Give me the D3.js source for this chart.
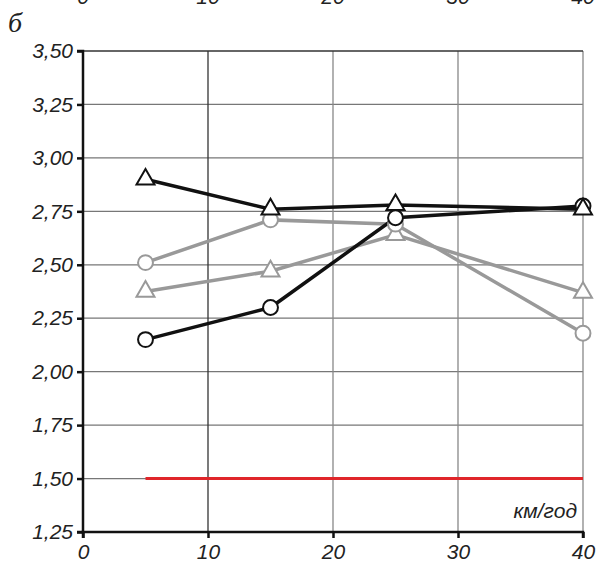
<!DOCTYPE html>
<html>
<head>
<meta charset="utf-8">
<script src="https://cdn.jsdelivr.net/npm/d3@7"></script>
<style>
  body { margin: 0; background: #fff; }
  svg text { font-family: "Liberation Sans", Arial, sans-serif; font-style: italic; }
</style>
</head>
<body>
<div id="chart"></div>
<script>
// speed, km/h
var speeds = [5, 15, 25, 40];

var blackTriangles = [2.90, 2.76, 2.78, 2.76];
var blackCircles = [2.15, 2.30, 2.72, 2.775];
var greyCircles = [2.51, 2.71, 2.69, 2.18];
var greyTriangles = [2.375, 2.47, 2.64, 2.37];

var limitX = [5, 40];
var limitValue = 1.50;

var yTicks = [1.25, 1.50, 1.75, 2.00, 2.25, 2.50, 2.75, 3.00, 3.25, 3.50];
var xTicks = [0, 10, 20, 30, 40];

var width = 596, height = 565;

var x = d3.scaleLinear().domain([0, 40]).range([83, 583]);
var y = d3.scaleLinear().domain([1.25, 3.50]).range([532, 51]);

var svg = d3.select('#chart').append('svg')
    .attr('width', width)
    .attr('height', height);

var fmt = function (d) { return d3.format('.2f')(d).replace('.', ','); };

// tick labels of the chart above, cut off at the top
svg.append('g').selectAll('text')
    .data(xTicks)
    .enter().append('text')
    .attr('x', function (d) { return x(d); })
    .attr('y', 4)
    .attr('text-anchor', 'middle')
    .attr('fill', '#222')
    .style('font-size', '21px')
    .text(function (d) { return d; });

svg.append('text')
    .attr('x', 8)
    .attr('y', 32)
    .attr('fill', '#222')
    .style('font-family', '"Liberation Serif", serif')
    .style('font-size', '28px')
    .text('б');

// grid
svg.append('g').selectAll('line')
    .data(yTicks.slice(1, -1))
    .enter().append('line')
    .attr('x1', x(0)).attr('x2', x(40))
    .attr('y1', function (d) { return y(d); })
    .attr('y2', function (d) { return y(d); })
    .attr('stroke', '#777')
    .attr('stroke-width', 1.2);

svg.append('g').selectAll('line')
    .data(xTicks.slice(1))
    .enter().append('line')
    .attr('y1', y(1.25)).attr('y2', y(3.50))
    .attr('x1', function (d) { return x(d); })
    .attr('x2', function (d) { return x(d); })
    .attr('stroke', function (d) { return d === 10 ? '#333' : '#888'; })
    .attr('stroke-width', 1.3);

svg.append('line')
    .attr('x1', x(0)).attr('x2', x(40))
    .attr('y1', y(3.50)).attr('y2', y(3.50))
    .attr('stroke', '#333').attr('stroke-width', 1.5);

// axes
var yAxis = svg.append('g')
    .attr('transform', 'translate(' + x(0) + ',0)')
    .call(d3.axisLeft(y).tickValues(yTicks).tickFormat(fmt).tickSize(6).tickPadding(4));
var xAxis = svg.append('g')
    .attr('transform', 'translate(0,' + y(1.25) + ')')
    .call(d3.axisBottom(x).tickValues(xTicks).tickSize(6).tickPadding(6));

[yAxis, xAxis].forEach(function (ax) {
    ax.select('.domain').attr('stroke', '#111').attr('stroke-width', 2.5);
    ax.selectAll('.tick line').attr('stroke', '#111').attr('stroke-width', 2.5);
    ax.selectAll('.tick text')
        .attr('fill', '#222')
        .style('font-size', '21px')
        .style('font-family', '"Liberation Sans", Arial, sans-serif')
        .style('font-style', 'italic');
});
xAxis.select('.domain').attr('d', 'M' + x(0) + ',6V0H' + x(40) + 'V6');
yAxis.select('.domain').attr('d', 'M-6,' + y(3.50) + 'H0V' + y(1.25) + 'H-6');

svg.append('text')
    .attr('x', 577)
    .attr('y', 518)
    .attr('text-anchor', 'end')
    .attr('fill', '#222')
    .style('font-size', '21px')
    .text('км/год');

// limit line
svg.append('line')
    .attr('x1', x(limitX[0])).attr('x2', x(limitX[1]))
    .attr('y1', y(limitValue)).attr('y2', y(limitValue))
    .attr('stroke', '#e0262a')
    .attr('stroke-width', 3);

var series = [
    { values: greyTriangles, color: '#999', marker: 'triangle' },
    { values: greyCircles, color: '#999', marker: 'circle' },
    { values: blackCircles, color: '#111', marker: 'circle' },
    { values: blackTriangles, color: '#111', marker: 'triangle' }
];

var line = d3.line()
    .x(function (d) { return x(d[0]); })
    .y(function (d) { return y(d[1]); });

series.forEach(function (s) {
    var pts = speeds.map(function (v, i) { return [v, s.values[i]]; });
    svg.append('path')
        .datum(pts)
        .attr('d', line)
        .attr('fill', 'none')
        .attr('stroke', s.color)
        .attr('stroke-width', 3.5);
});

series.forEach(function (s) {
    var pts = speeds.map(function (v, i) { return [v, s.values[i]]; });
    var sym = d3.symbol()
        .type(s.marker === 'circle' ? d3.symbolCircle : d3.symbolTriangle)
        .size(s.marker === 'circle' ? 175 : 140);
    svg.append('g').selectAll('path')
        .data(pts)
        .enter().append('path')
        .attr('transform', function (d) { return 'translate(' + x(d[0]) + ',' + y(d[1]) + ')'; })
        .attr('d', sym)
        .attr('fill', '#fff')
        .attr('stroke', s.color)
        .attr('stroke-width', 2);
});
</script>
</body>
</html>
